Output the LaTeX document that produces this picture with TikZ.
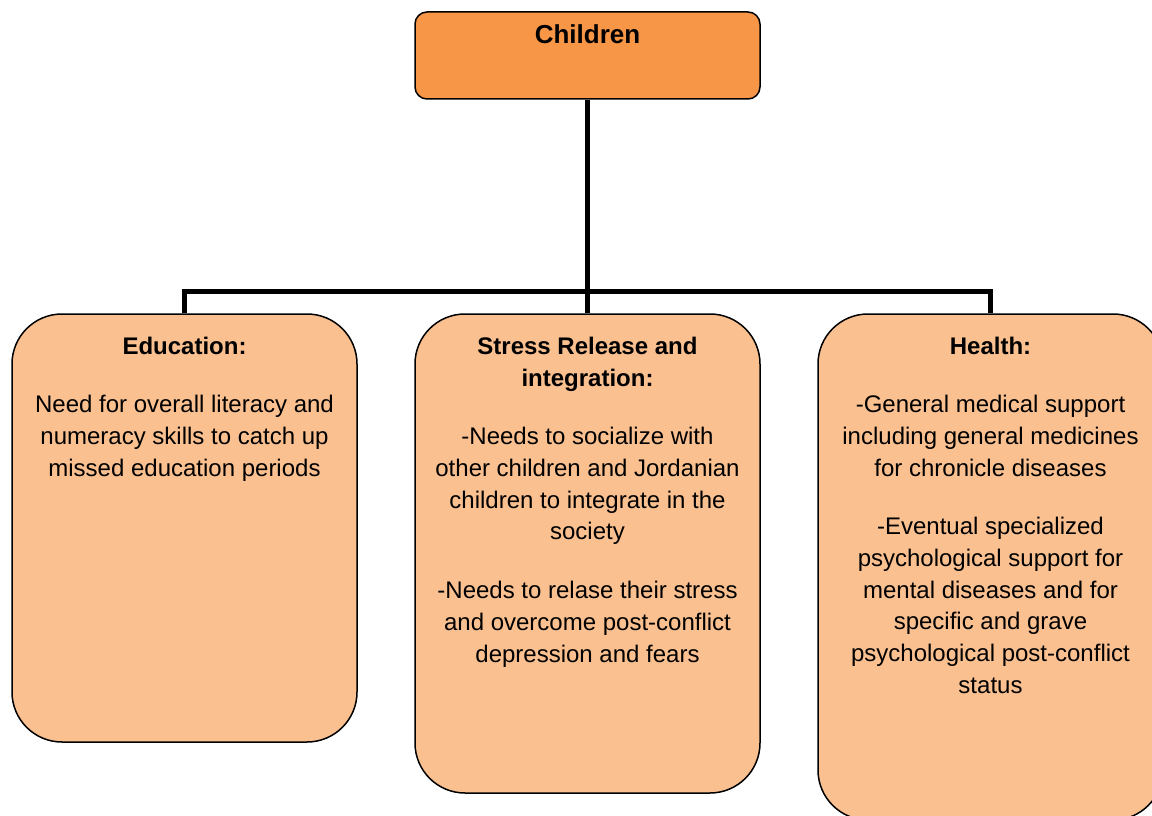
\documentclass[tikz,border=0pt]{standalone}
\usepackage{fontspec}
\setmainfont{Liberation Sans}
\usetikzlibrary{backgrounds}
\definecolor{topfill}{HTML}{F79646}
\definecolor{boxfill}{HTML}{FAC090}
\begin{document}
\begin{tikzpicture}[x=1pt,y=-1pt,
  topbox/.style={draw=black, line width=1.5pt, fill=topfill, rounded corners=12pt, inner sep=0pt, minimum width=345pt, minimum height=87pt},
  needbox/.style={draw=black, line width=1.5pt, fill=boxfill, rounded corners=50pt, inner sep=0pt, minimum width=345pt},
  txt/.style={anchor=north, inner sep=0pt, align=center, font=\fontsize{24}{31.7}\selectfont},
  head/.style={txt, font=\fontsize{24}{31.7}\selectfont\bfseries},
  conn/.style={draw=black, line width=5pt}]
\clip (0,0) rectangle (1152,816);
\useasboundingbox (0,0) rectangle (1152,816);

% boxes
\node[topbox] (children) at (587.5,55.5) {};
\node[needbox, minimum height=428pt] (edu) at (184.5,528) {};
\node[needbox, minimum height=479pt] (stress) at (587.5,553.5) {};
\node[needbox, minimum height=506pt] (health) at (990.5,567) {};

% connectors
\coordinate (j) at (587.5,291);
\begin{pgfonlayer}{background}
\draw[conn] (edu.north) |- (j) -| (health.north);
\draw[conn] (children.south) -- (stress.north);
\end{pgfonlayer}

% texts
\node[head, font=\fontsize{26}{31.7}\selectfont\bfseries] (tchildren) at (587.5,21) {\strut Children};

\node[head] (tedu) at (184.5,332.5) {\strut Education:};
\node[txt] (tedu1) at (184.5,390.5) {\strut Need for overall literacy and\\numeracy skills to catch up\\missed education periods};

\node[head] (tstress) at (587.5,332.5) {\strut Stress Release and\\integration:};
\node[txt] (tstress1) at (587.5,422.5) {\strut -Needs to socialize with\\other children and Jordanian\\children to integrate in the\\society};
\node[txt] (tstress2) at (587.5,576.5) {\strut -Needs to relase their stress\\and overcome post-conflict\\depression and fears};

\node[head] (thealth) at (990.5,332.5) {\strut Health:};
\node[txt] (thealth1) at (990.5,390.5) {\strut -General medical support\\including general medicines\\for chronicle diseases};
\node[txt] (thealth2) at (990.5,512.5) {\strut -Eventual specialized\\psychological support for\\mental diseases and for\\specific and grave\\psychological post-conflict\\status};
\end{tikzpicture}
\end{document}
